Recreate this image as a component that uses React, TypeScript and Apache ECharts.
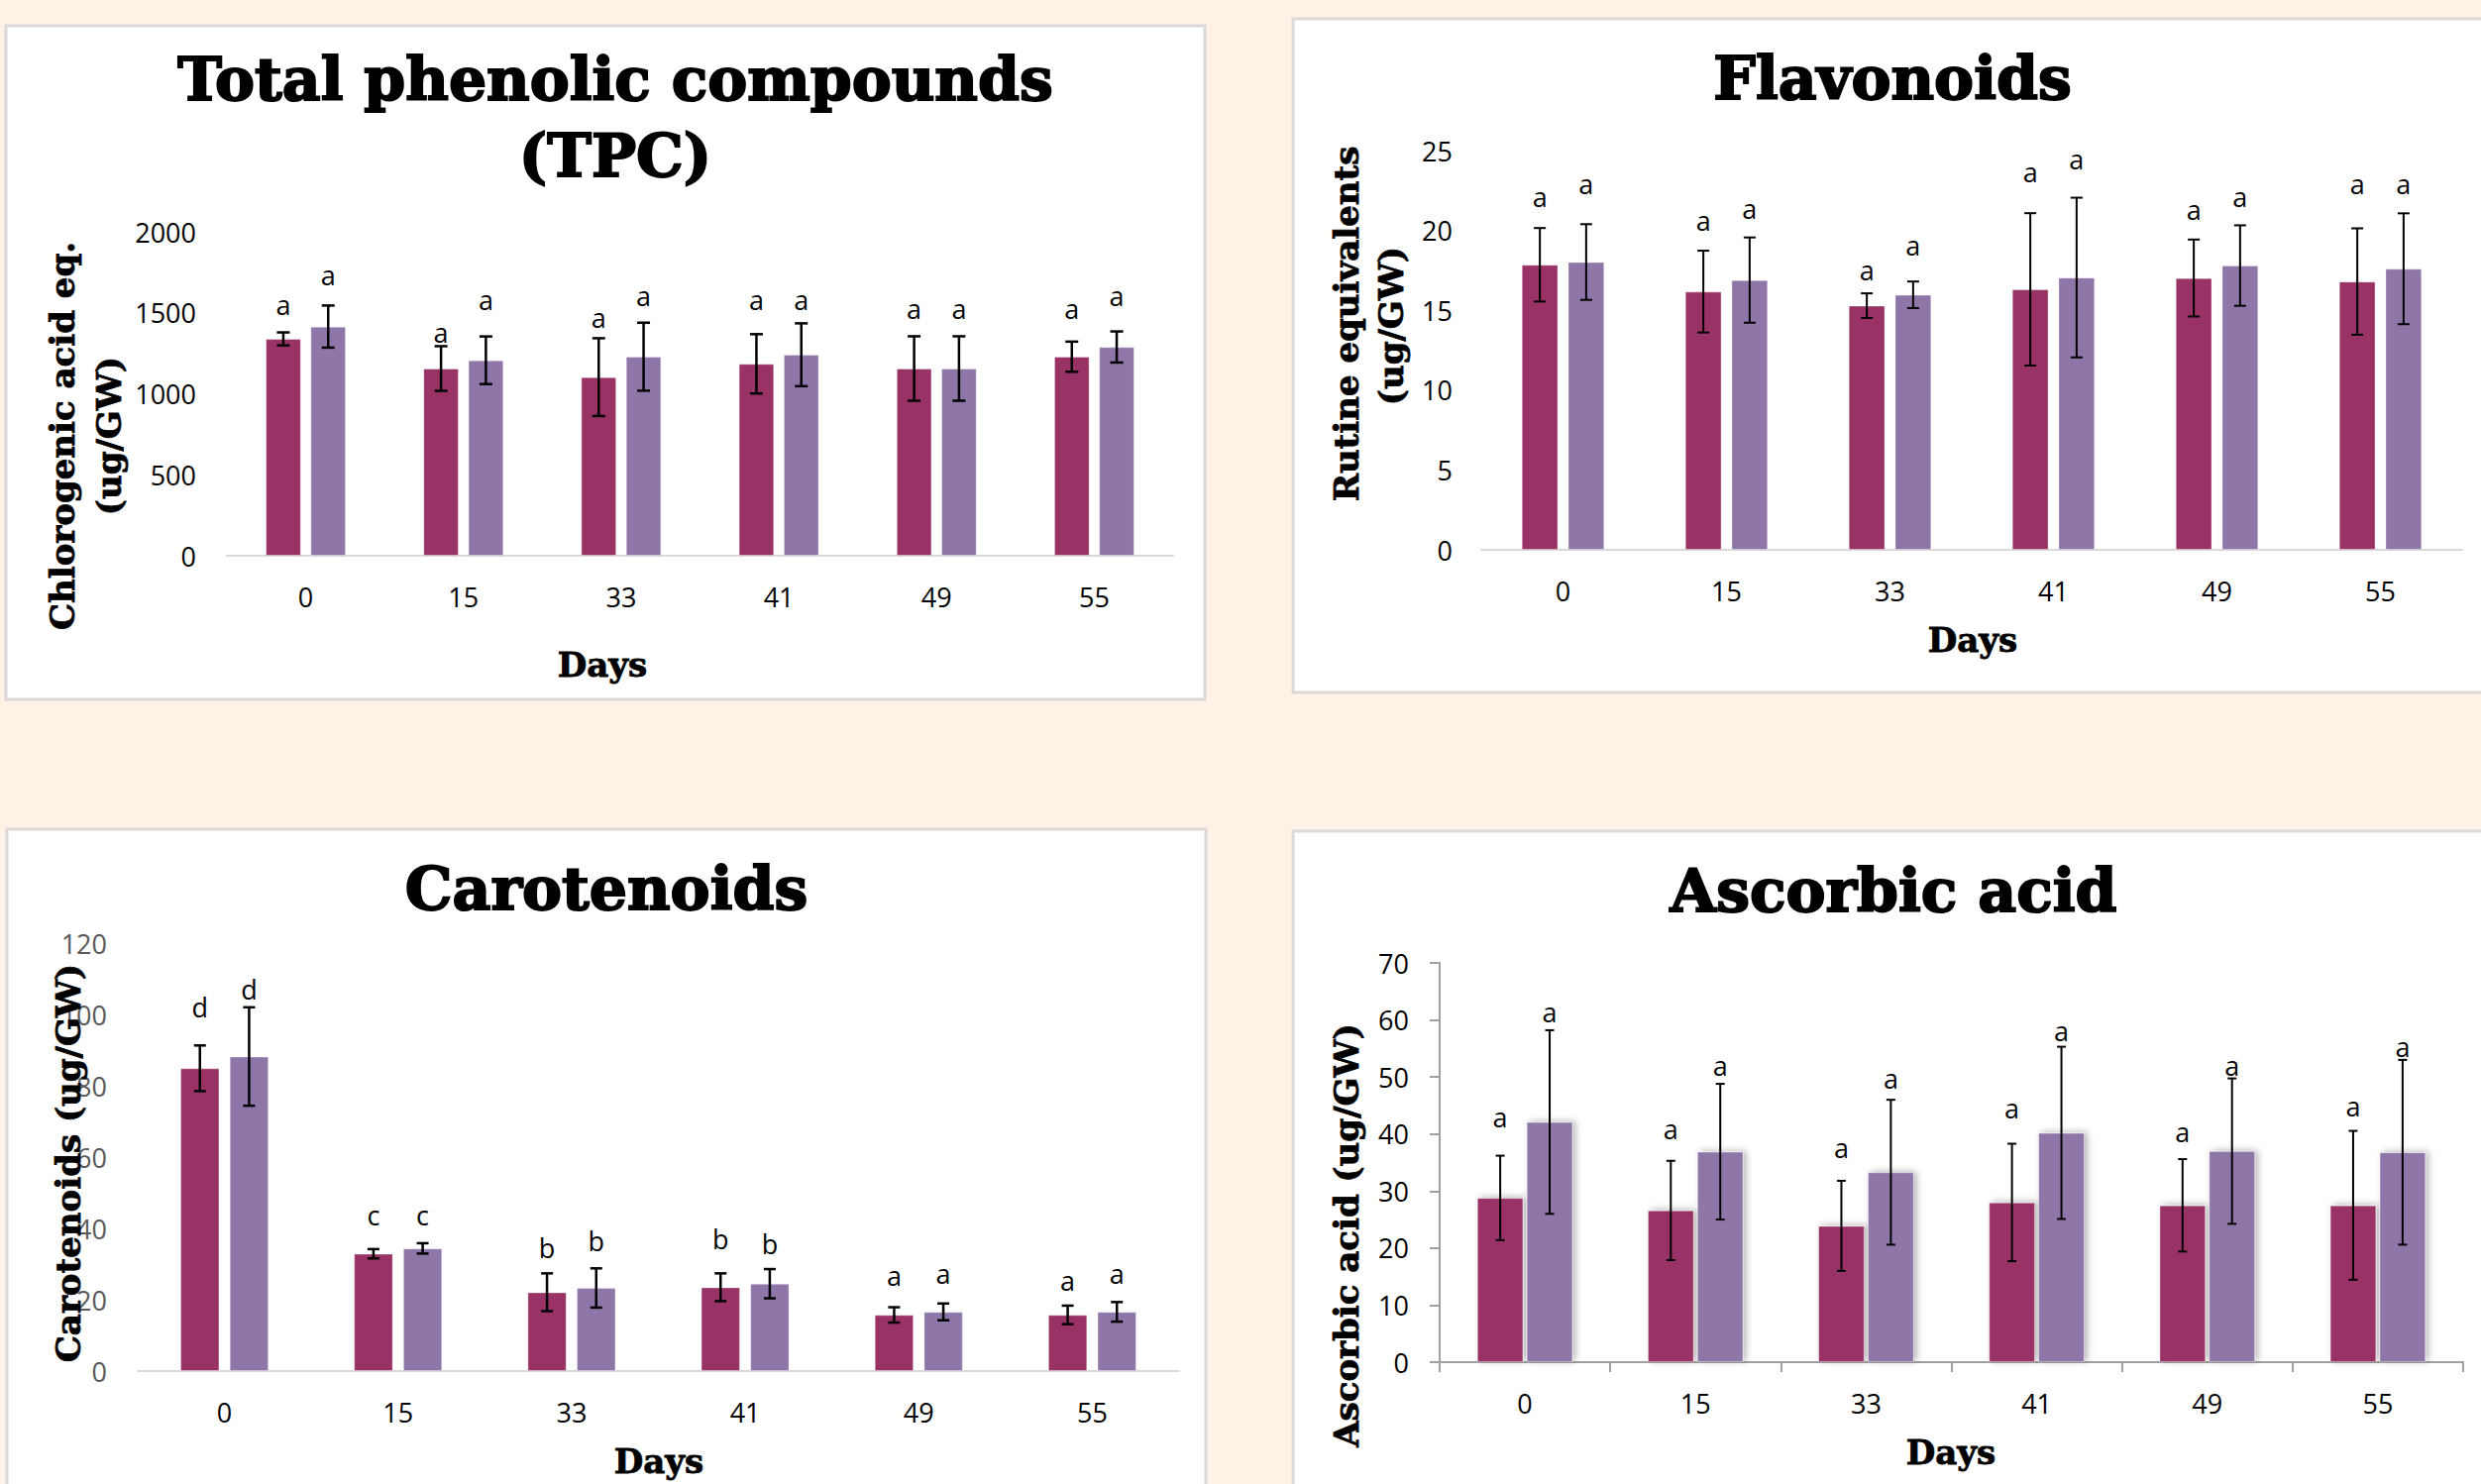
import React, { useEffect, useRef } from "react";
import * as echarts from "echarts";

// ---------- data ----------
const days = ["0", "15", "33", "41", "49", "55"];

// Total phenolic compounds (Chlorogenic acid eq. ug/GW)
const tpcA = [1339, 1156, 1103, 1185, 1156, 1229];
const tpcAErr = [40, 138, 240, 183, 199, 93];
const tpcB = [1415, 1207, 1229, 1241, 1156, 1289];
const tpcBErr = [130, 147, 210, 194, 199, 96];
const tpcALetters = ["a", "a", "a", "a", "a", "a"];
const tpcBLetters = ["a", "a", "a", "a", "a", "a"];
const tpcALetterAt = [1550, 1382, 1474, 1578, 1527, 1527];
const tpcBLetterAt = [1732, 1578, 1606, 1578, 1527, 1606];
const tpcTicks = { max: 2000, interval: 500 };

// Flavonoids (Rutine equivalents ug/GW)
const flavA = [17.85, 16.17, 15.29, 16.31, 17.02, 16.8];
const flavAErr = [2.3, 2.56, 0.77, 4.77, 2.41, 3.33];
const flavB = [18.02, 16.89, 15.97, 17.05, 17.8, 17.6];
const flavBErr = [2.37, 2.67, 0.83, 5.0, 2.52, 3.47];
const flavALetters = ["a", "a", "a", "a", "a", "a"];
const flavBLetters = ["a", "a", "a", "a", "a", "a"];
const flavALetterAt = [22.13, 20.6, 17.5, 23.66, 21.33, 22.9];
const flavBLetterAt = [22.9, 21.4, 19.05, 24.46, 22.13, 22.9];
const flavTicks = { max: 25, interval: 5 };

// Carotenoids (ug/GW)
const carA = [84.9, 32.9, 22.1, 23.5, 15.75, 15.75];
const carAErr = [6.4, 1.3, 5.3, 3.9, 2.15, 2.6];
const carB = [88.2, 34.4, 23.3, 24.5, 16.6, 16.6];
const carBErr = [13.8, 1.45, 5.5, 4.1, 2.35, 2.75];
const carALetters = ["d", "c", "b", "b", "a", "a"];
const carBLetters = ["d", "c", "b", "b", "a", "a"];
const carALetterAt = [102, 43.7, 34.7, 37.1, 26.9, 25.5];
const carBLetterAt = [107.2, 43.7, 36.5, 35.6, 27.5, 27.5];
const carTicks = { max: 120, interval: 20 };

// Ascorbic acid (ug/GW)
const ascA = [28.8, 26.6, 23.9, 28.0, 27.5, 27.5];
const ascAErr = [7.4, 8.7, 7.9, 10.3, 8.1, 13.05];
const ascB = [42.1, 36.9, 33.3, 40.2, 37.0, 36.8];
const ascBErr = [16.1, 11.9, 12.7, 15.1, 12.75, 16.2];
const ascALetters = ["a", "a", "a", "a", "a", "a"];
const ascBLetters = ["a", "a", "a", "a", "a", "a"];
const ascALetterAt = [43.0, 40.9, 37.6, 44.55, 40.4, 44.9];
const ascBLetterAt = [61.4, 52.05, 49.8, 58.05, 52.05, 55.4];
const ascTicks = { max: 70, interval: 10 };

// ---------- styles ----------
const PAGE_BG = "#FEF1E6";
const PANEL_BORDER = "#D9D9D9";
const COLOR_A = "#993366";
const COLOR_B = "#8E76A9";
const TICK_FONT = "'Open Sans', 'Noto Sans', sans-serif";
const SERIF = "'DejaVu Serif', serif";

type Panel = {
  grid: { left: number; top: number; width: number; height: number };
  ticks: { max: number; interval: number };
  a: number[]; aErr: number[]; b: number[]; bErr: number[];
  aLet: string[]; bLet: string[]; aAt: number[]; bAt: number[];
  barFrac: number; gapFrac: number; lw: number; cap: number;
  yColor: string; boxed: boolean; shadow: boolean; yMargin: number;
};

const panels: Panel[] = [
  {
    grid: { left: 229, top: 234, width: 955, height: 327 },
    ticks: tpcTicks, a: tpcA, aErr: tpcAErr, b: tpcB, bErr: tpcBErr,
    aLet: tpcALetters, bLet: tpcBLetters, aAt: tpcALetterAt, bAt: tpcBLetterAt,
    barFrac: 0.224, gapFrac: 0.27, lw: 2.5, cap: 6.5, yColor: "#000", boxed: false, shadow: false, yMargin: 31,
  },
  {
    grid: { left: 1495, top: 152, width: 990, height: 403 },
    ticks: flavTicks, a: flavA, aErr: flavAErr, b: flavB, bErr: flavBErr,
    aLet: flavALetters, bLet: flavBLetters, aAt: flavALetterAt, bAt: flavBLetterAt,
    barFrac: 0.223, gapFrac: 0.27, lw: 2, cap: 6, yColor: "#000", boxed: false, shadow: false, yMargin: 29,
  },
  {
    grid: { left: 139, top: 952, width: 1051, height: 432 },
    ticks: carTicks, a: carA, aErr: carAErr, b: carB, bErr: carBErr,
    aLet: carALetters, bLet: carBLetters, aAt: carALetterAt, bAt: carBLetterAt,
    barFrac: 0.225, gapFrac: 0.26, lw: 2.5, cap: 6, yColor: "#595959", boxed: false, shadow: false, yMargin: 31,
  },
  {
    grid: { left: 1453, top: 972, width: 1033, height: 403 },
    ticks: ascTicks, a: ascA, aErr: ascAErr, b: ascB, bErr: ascBErr,
    aLet: ascALetters, bLet: ascBLetters, aAt: ascALetterAt, bAt: ascBLetterAt,
    barFrac: 0.271, gapFrac: 0.07, lw: 2, cap: 4.5, yColor: "#000", boxed: true, shadow: true, yMargin: 31,
  },
];

function errorRenderer(
  means: number[], errs: number[], letters: string[], letterAt: number[],
  side: number, p: Panel
) {
  return (params: any, api: any) => {
    const i = params.dataIndex;
    const band = api.size([1, 0])[0];
    const bw = band * p.barFrac;
    const off = (side * (bw + bw * p.gapFrac)) / 2;
    const x = api.coord([i, means[i]])[0] + off;
    const top = api.coord([i, means[i] + errs[i]])[1];
    const bot = api.coord([i, means[i] - errs[i]])[1];
    const ly = api.coord([i, letterAt[i]])[1];
    const st = { stroke: "#000", lineWidth: p.lw };
    return {
      type: "group",
      children: [
        { type: "line", shape: { x1: x, y1: top, x2: x, y2: bot }, style: st },
        { type: "line", shape: { x1: x - p.cap, y1: top, x2: x + p.cap, y2: top }, style: st },
        { type: "line", shape: { x1: x - p.cap, y1: bot, x2: x + p.cap, y2: bot }, style: st },
        {
          type: "text",
          x,
          y: ly,
          style: {
            text: letters[i], fill: "#000", fontSize: 27, fontFamily: TICK_FONT,
            textAlign: "center", textVerticalAlign: "middle",
          },
        },
      ],
    };
  };
}

function titleText(text: string, x: number, y: number, size: number, rotate = false) {
  return {
    type: "text",
    x, y,
    rotation: rotate ? Math.PI / 2 : 0,
    silent: true,
    z: 10,
    style: {
      text, fill: "#000", fontSize: size, fontFamily: SERIF, fontWeight: "bold",
      stroke: "#000", lineWidth: size >= 50 ? 2 : 0.8,
      textAlign: "center", textVerticalAlign: "middle",
    },
  };
}

function buildOption() {
  const grid: any[] = [];
  const xAxis: any[] = [];
  const yAxis: any[] = [];
  const series: any[] = [];
  panels.forEach((p, k) => {
    grid.push({ ...p.grid, containLabel: false });
    const axisColor = p.boxed ? "#A0A0A0" : PANEL_BORDER;
    xAxis.push({
      type: "category", gridIndex: k, data: days,
      axisLine: { show: true, lineStyle: { color: axisColor, width: 2 } },
      axisTick: { show: p.boxed, length: 10, lineStyle: { color: axisColor, width: 2 } },
      axisLabel: { color: "#000", fontSize: 27, fontFamily: TICK_FONT, margin: 28, interval: 0 },
      splitLine: { show: false },
    });
    yAxis.push({
      type: "value", gridIndex: k, min: 0, max: p.ticks.max, interval: p.ticks.interval,
      axisLine: { show: p.boxed, lineStyle: { color: axisColor, width: 2 } },
      axisTick: { show: p.boxed, length: 10, lineStyle: { color: axisColor, width: 2 } },
      axisLabel: {
        color: p.yColor, fontSize: 27, fontFamily: TICK_FONT, margin: p.yMargin,
        formatter: (v: number) => String(v),
      },
      splitLine: { show: false },
    });
    const shadow = p.shadow
      ? { shadowBlur: 7, shadowColor: "rgba(0,0,0,0.3)", shadowOffsetX: 3, shadowOffsetY: -1 }
      : {};
    const pct = (p.barFrac * 100).toFixed(1) + "%";
    const gap = (p.gapFrac * 100).toFixed(0) + "%";
    series.push({
      type: "bar", xAxisIndex: k, yAxisIndex: k, data: p.a, barWidth: pct, barGap: gap,
      itemStyle: { color: COLOR_A, borderColor: "rgba(255,255,255,0.35)", borderWidth: 1, ...shadow },
      z: 2,
    });
    series.push({
      type: "bar", xAxisIndex: k, yAxisIndex: k, data: p.b, barWidth: pct, barGap: gap,
      itemStyle: { color: COLOR_B, borderColor: "rgba(255,255,255,0.35)", borderWidth: 1, ...shadow },
      z: 2,
    });
    series.push({
      type: "custom", xAxisIndex: k, yAxisIndex: k, z: 4,
      data: p.a.map((v, i) => [i, v]),
      renderItem: errorRenderer(p.a, p.aErr, p.aLet, p.aAt, -1, p),
    });
    series.push({
      type: "custom", xAxisIndex: k, yAxisIndex: k, z: 4,
      data: p.b.map((v, i) => [i, v]),
      renderItem: errorRenderer(p.b, p.bErr, p.bLet, p.bAt, 1, p),
    });
  });

  const panelRect = (x: number, y: number, w: number, h: number) => ({
    type: "rect", silent: true, z: -10,
    shape: { x, y, width: w, height: h },
    style: { fill: "#FFFFFF", stroke: PANEL_BORDER, lineWidth: 3 },
  });

  const graphic = [
    panelRect(6, 26, 1210, 680),
    panelRect(1305, 19, 1220, 680),
    panelRect(7, 837, 1210, 700),
    panelRect(1305, 839, 1220, 700),
    titleText("Total phenolic compounds", 621, 80, 60),
    titleText("(TPC)", 621, 157, 60),
    titleText("Flavonoids", 1910, 79, 60),
    titleText("Carotenoids", 612, 897, 60),
    titleText("Ascorbic acid", 1911, 899, 60),
    titleText("Chlorogenic acid eq.", 63, 440, 34, true),
    titleText("(ug/GW)", 110, 440, 34, true),
    titleText("Rutine equivalents", 1359, 327, 34, true),
    titleText("(ug/GW)", 1404, 329, 34, true),
    titleText("Carotenoids (ug/GW)", 69, 1174, 34, true),
    titleText("Ascorbic acid (ug/GW)", 1359, 1247, 34, true),
    titleText("Days", 608, 671, 34),
    titleText("Days", 1991, 646, 34),
    titleText("Days", 665, 1475, 34),
    titleText("Days", 1969, 1466, 34),
  ];

  return {
    animation: false,
    backgroundColor: PAGE_BG,
    grid, xAxis, yAxis, series,
    graphic: { elements: graphic },
  };
}

export default function App() {
  const ref = useRef<HTMLDivElement>(null);
  useEffect(() => {
    const chart = echarts.init(ref.current as HTMLDivElement, null, { renderer: "svg" });
    chart.setOption(buildOption() as any);
    return () => chart.dispose();
  }, []);
  return (
    <div
      ref={ref}
      style={{ position: "absolute", left: 0, top: 0, width: 2504, height: 1498 }}
    />
  );
}
